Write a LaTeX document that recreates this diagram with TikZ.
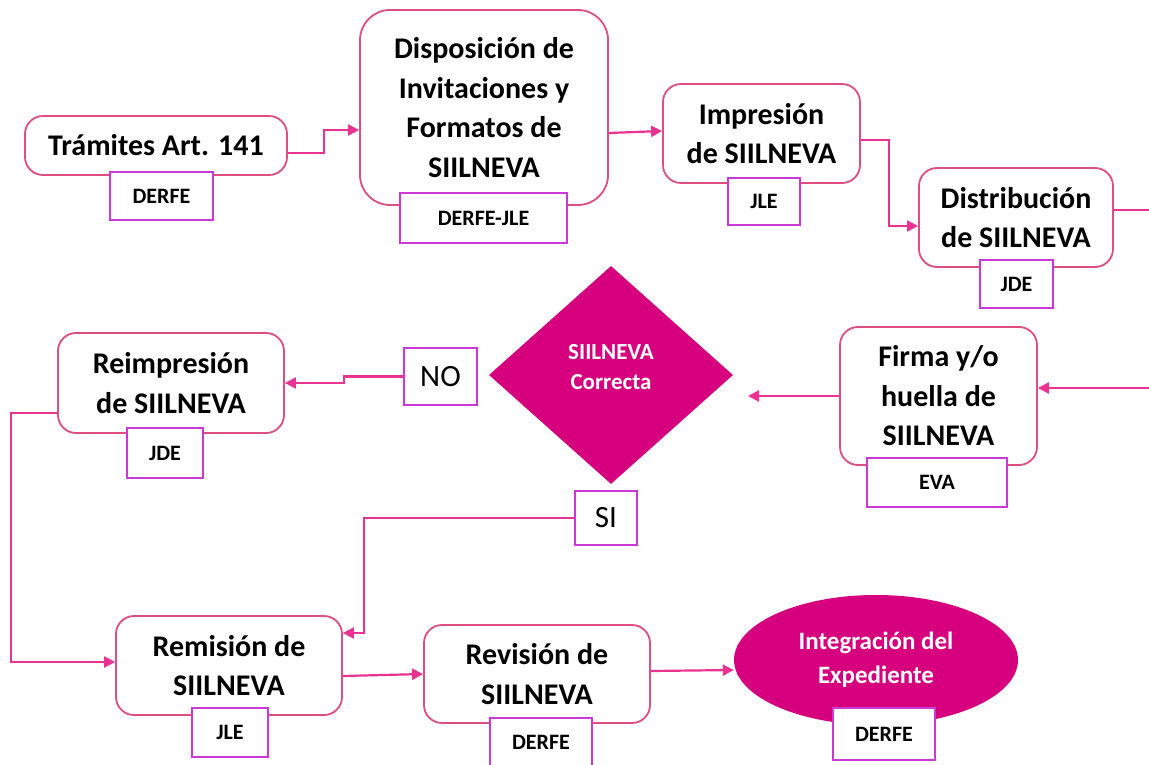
\documentclass[tikz,border=0pt]{standalone}
\usepackage{fontspec}
\setmainfont{Carlito}
\usetikzlibrary{shapes.geometric,arrows.meta,calc}
\definecolor{boxc}{RGB}{222,78,128}
\definecolor{arrc}{RGB}{234,50,146}
\definecolor{labc}{RGB}{204,56,214}
\definecolor{decc}{RGB}{214,0,127}
\begin{document}
\begin{tikzpicture}[x=1pt,y=-1pt,
  proc/.style={draw=boxc, line width=1.8pt, rounded corners=18pt, fill=white,
    align=center, inner sep=0pt, font=\bfseries\fontsize{30}{39.5}\selectfont},
  lab/.style={draw=labc, line width=2.4pt, fill=white, inner sep=0pt,
    font=\bfseries\fontsize{22}{26}\selectfont},
  ans/.style={draw=labc, line width=2.4pt, fill=white, inner sep=0pt,
    font=\fontsize{31}{35}\selectfont},
  conn/.style={draw=arrc, line width=2.2pt},
  arr/.style={conn, -{Triangle[length=11pt,width=11pt]}},
  whitetext/.style={text=white, align=center, inner sep=0pt}
]
\useasboundingbox (0,0) rectangle (1149,765);
\fill[white] (0,0) rectangle (1149,765);

% process boxes
\node[proc, minimum width=262pt, minimum height=59pt] (tram) at (156,145.5) {Trámites Art. 141};
\node[proc, rounded corners=30pt, minimum width=248pt, minimum height=195pt] (disp) at (484,107.5)
  {Disposición de\\Invitaciones y\\Formatos de\\SIILNEVA};
\node[proc, minimum width=197pt, minimum height=99pt] (imp) at (761.5,133.5) {Impresión\\de SIILNEVA};
\node[proc, minimum width=194pt, minimum height=99pt] (dist) at (1016,217.5) {Distribución\\de SIILNEVA};
\node[proc, minimum width=197pt, minimum height=138pt] (firma) at (938.5,396) {Firma y/o\\huella de\\SIILNEVA};
\node[proc, minimum width=226pt, minimum height=100pt] (reimp) at (171,383) {Reimpresión\\de SIILNEVA};
\node[proc, minimum width=226pt, minimum height=99pt] (remis) at (229,665.5) {Remisión de\\SIILNEVA};
\node[proc, minimum width=226pt, minimum height=98pt] (revis) at (537,674) {Revisión de\\SIILNEVA};

% decision and end
\node[diamond, fill=decc, inner sep=0pt, minimum width=244pt, minimum height=218pt] (dec) at (611,375) {};
\node[whitetext, font=\bfseries\fontsize{23}{30}\selectfont] (dectext) at ([yshift=8pt]dec.center)
  {SIILNEVA\\Correcta};
\node[ellipse, fill=decc, inner sep=0pt, minimum width=284pt, minimum height=130pt,
  whitetext, font=\bfseries\fontsize{25}{34}\selectfont] (ell) at (876,660)
  {Integración del\\Expediente};

% responsible labels
\node[lab, minimum width=103pt, minimum height=48pt] (l1) at (161.5,196) {DERFE};
\node[lab, minimum width=167pt, minimum height=50pt] (l2) at (483.5,218) {DERFE-JLE};
\node[lab, minimum width=72pt, minimum height=47pt] (l3) at (764,201.5) {JLE};
\node[lab, minimum width=73pt, minimum height=48pt] (l4) at (1016.5,284) {JDE};
\node[lab, minimum width=140pt, minimum height=49pt] (l5) at (937,482.5) {EVA};
\node[lab, minimum width=76pt, minimum height=50pt] (l6) at (165,453) {JDE};
\node[lab, minimum width=76pt, minimum height=49pt] (l7) at (230,732.5) {JLE};
\node[lab, minimum width=102pt, minimum height=48pt] (l8) at (541,742) {DERFE};
\node[lab, minimum width=102pt, minimum height=52pt] (l9) at (884,734) {DERFE};

% answers
\node[ans, minimum width=73pt, minimum height=57pt] (no) at (440.5,376.5) {NO};
\node[ans, minimum width=62pt, minimum height=54pt] (si) at (606,518) {SI};

% free ends
\coordinate (rt1) at (1149,210);
\coordinate (rt2) at (1149,388);
\coordinate (dgin) at (748,396);

% connectors
\draw[arr] ([yshift=-7.5pt]tram.east) -- ++(36,0) |- ([yshift=-22.5pt]disp.west);
\draw[arr] ([yshift=-25.5pt]disp.east) -- ([yshift=2.5pt]imp.west);
\draw[arr] ([yshift=-6.5pt]imp.east) -- ++(28,0) |- ([yshift=-8.5pt]dist.west);
\draw[conn] ([yshift=7.5pt]dist.east) -- (rt1);
\draw[arr] (rt2) -- ([yshift=8pt]firma.east);
\draw[arr] (firma.west) -- (dgin);
\draw[arr] (no.west) -- ++(-59,0) |- (reimp.east);
\draw[arr] ([yshift=-30pt]reimp.west) -- ++(-46,0) |- ([yshift=3.5pt]remis.west);
\draw[arr] (si.west) -- ++(-210,0) |- ([yshift=32.5pt]remis.east);
\draw[arr] ([yshift=-10.5pt]remis.east) -- (revis.west);
\draw[arr] ([yshift=3pt]revis.east) -- ([yshift=-10pt]ell.west);
\end{tikzpicture}
\end{document}
